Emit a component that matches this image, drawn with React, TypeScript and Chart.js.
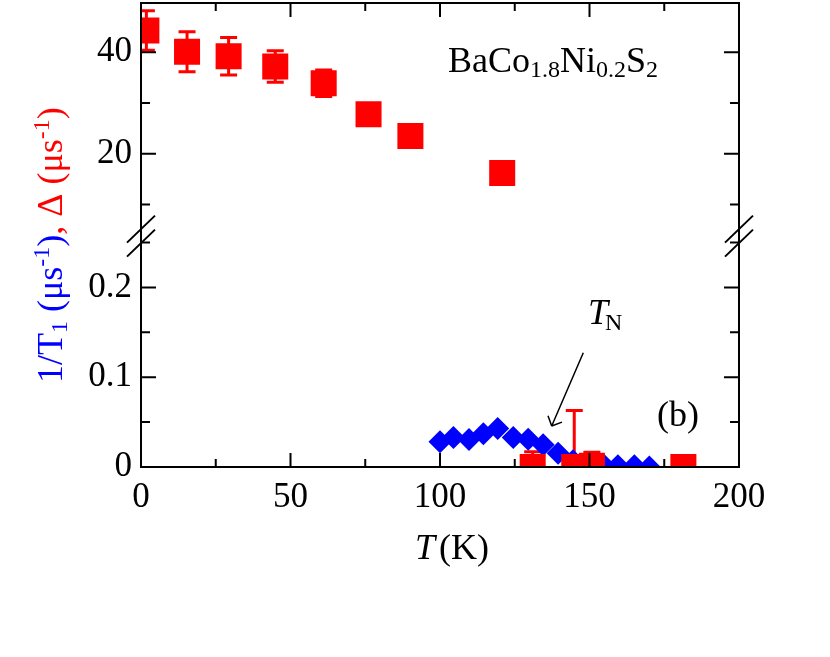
import React, { useEffect, useRef } from 'react';
import { Chart, registerables } from 'chart.js';
Chart.register(...registerables);

const FONT = '"Liberation Serif", "Times New Roman", serif';
const RED = '#ff0000';
const BLUE = '#0000ff';

// Δ (upper panel, μs^-1)
const deltaT = [1.8, 15.4, 29.3, 44.9, 61.1, 76.1, 90.1, 120.8];
const deltaVal = [44.3, 40.1, 39.2, 37.2, 33.9, 27.8, 23.5, 16.2];
const deltaErr = [3.9, 3.95, 3.7, 3.1, 2.6, 0, 0, 0];

// Δ above T_N (lower panel scale)
const deltaHighT = [131, 144.9, 150.8, 181.4];
const deltaHighVal = [0, 0, 0.0015, 0];
const deltaHighErr = [0.017, 0.063, 0.015, 0];

// 1/T1 (lower panel, μs^-1)
const relaxT = [100, 104.5, 109.7, 114.5, 119.3, 124.5, 129.5, 134.5, 139.5, 144.5, 149.5, 154.5, 159.5, 165, 170];
const relaxVal = [0.028, 0.033, 0.0305, 0.037, 0.0428, 0.0329, 0.031, 0.0247, 0.0154, 0.0069, 0.003, 0.0031, 0.0013, 0.0013, 0];

// ticks
const xMajor = [0, 50, 100, 150, 200];
const xMinor = [25, 75, 125, 175];
const topMajor = [20, 40];
const topMinor = [10, 30];
const botMajor = [0, 0.1, 0.2];
const botMinor = [0.05, 0.15, 0.25];

type Seg = { text: string; size: number; color?: string; italic?: boolean; dy?: number; gap?: number };

function drawRich(ctx: CanvasRenderingContext2D, segs: Seg[], x: number, y: number) {
  let cx = x;
  for (const s of segs) {
    ctx.font = `${s.italic ? 'italic ' : ''}${s.size}px ${FONT}`;
    ctx.fillStyle = s.color || '#000';
    ctx.fillText(s.text, cx, y + (s.dy || 0));
    cx += ctx.measureText(s.text).width + (s.gap || 0);
  }
  return cx;
}

const yTitleSegs: Seg[] = [
  { text: '1/T', size: 36, color: BLUE },
  { text: '1', size: 24, color: BLUE, dy: 5 },
  { text: ' (μs', size: 36, color: BLUE },
  { text: '-1', size: 24, color: BLUE, dy: -13 },
  { text: ')', size: 36, color: BLUE },
  { text: ', Δ (μs', size: 36, color: RED },
  { text: '-1', size: 24, color: RED, dy: -13 },
  { text: ')', size: 36, color: RED },
];

const compoundSegs: Seg[] = [
  { text: 'BaCo', size: 36 },
  { text: '1.8', size: 24, dy: 5 },
  { text: 'Ni', size: 36 },
  { text: '0.2', size: 24, dy: 5 },
  { text: 'S', size: 36 },
  { text: '2', size: 24, dy: 5 },
];

const tnSegs: Seg[] = [
  { text: 'T', size: 36, italic: true, gap: -3 },
  { text: 'N', size: 24, dy: 6 },
];

const xTitleSegs: Seg[] = [
  { text: 'T', size: 36, italic: true, gap: 4 },
  { text: '(K)', size: 36 },
];

function errorBars(ctx: CanvasRenderingContext2D, xs: any, ys: any, T: number[], V: number[], E: number[]) {
  for (let i = 0; i < T.length; i++) {
    if (!E[i]) continue;
    const x = xs.getPixelForValue(T[i]);
    const y1 = ys.getPixelForValue(V[i] + E[i]);
    const y2 = ys.getPixelForValue(V[i] - E[i]);
    ctx.beginPath();
    ctx.moveTo(x, y1);
    ctx.lineTo(x, y2);
    ctx.moveTo(x - 8.5, y1);
    ctx.lineTo(x + 8.5, y1);
    ctx.moveTo(x - 8.5, y2);
    ctx.lineTo(x + 8.5, y2);
    ctx.stroke();
  }
}

const decorPlugin = {
  id: 'decor',
  beforeDatasetsDraw(chart: any) {
    const { ctx, chartArea } = chart;
    const xs = chart.scales.x;
    ctx.save();
    ctx.beginPath();
    ctx.rect(chartArea.left, chartArea.top, chartArea.right - chartArea.left, chartArea.bottom - chartArea.top);
    ctx.clip();
    ctx.strokeStyle = RED;
    ctx.lineWidth = 3;
    errorBars(ctx, xs, chart.scales.yTop, deltaT, deltaVal, deltaErr);
    errorBars(ctx, xs, chart.scales.yBot, deltaHighT, deltaHighVal, deltaHighErr);
    ctx.restore();
  },
  afterDraw(chart: any) {
    const { ctx, chartArea } = chart;
    const { left, right, top, bottom } = chartArea;
    const xs = chart.scales.x;
    const yT = chart.scales.yTop;
    const yB = chart.scales.yBot;
    ctx.save();
    ctx.strokeStyle = '#000';
    ctx.lineWidth = 2;
    ctx.strokeRect(left, top, right - left, bottom - top);
    ctx.beginPath();
    const xt = (vals: number[], len: number) => {
      for (const v of vals) {
        const x = xs.getPixelForValue(v);
        ctx.moveTo(x, bottom);
        ctx.lineTo(x, bottom - len);
        ctx.moveTo(x, top);
        ctx.lineTo(x, top + len);
      }
    };
    const yt = (sc: any, vals: number[], len: number) => {
      for (const v of vals) {
        const y = sc.getPixelForValue(v);
        ctx.moveTo(left, y);
        ctx.lineTo(left + len, y);
        ctx.moveTo(right, y);
        ctx.lineTo(right - len, y);
      }
    };
    xt(xMajor, 14);
    xt(xMinor, 8);
    yt(yT, topMajor, 15);
    yt(yT, topMinor, 9);
    yt(yB, botMajor, 15);
    yt(yB, botMinor, 9);
    ctx.stroke();

    // axis break marks
    const b = yB.top;
    ctx.beginPath();
    for (const ax of [left, right]) {
      for (const cy of [b - 13.5, b + 0.5]) {
        ctx.moveTo(ax - 14, cy + 13.5);
        ctx.lineTo(ax + 14, cy - 13.5);
      }
    }
    ctx.stroke();

    // texts
    ctx.textAlign = 'left';
    ctx.textBaseline = 'alphabetic';
    drawRich(ctx, compoundSegs, 448, 72);
    drawRich(ctx, tnSegs, 588, 324);
    drawRich(ctx, [{ text: '(b)', size: 36 }], 657, 426);
    drawRich(ctx, xTitleSegs, 415, 559);

    ctx.save();
    ctx.translate(62, 383);
    ctx.rotate(-Math.PI / 2);
    drawRich(ctx, yTitleSegs, 0, 0);
    ctx.restore();

    // T_N arrow
    const x0 = 583.3, y0 = 352.7, x1 = 551.7, y1 = 426;
    const ang = Math.atan2(y0 - y1, x0 - x1);
    ctx.lineWidth = 1.5;
    ctx.beginPath();
    ctx.moveTo(x0, y0);
    ctx.lineTo(x1, y1);
    for (const d of [-0.75, 0.8]) {
      ctx.moveTo(x1, y1);
      ctx.lineTo(x1 + 11 * Math.cos(ang + d), y1 + 11 * Math.sin(ang + d));
    }
    ctx.stroke();
    ctx.restore();
  },
};

const tickFont = { family: FONT, size: 35 };

const fitY = (s: any) => {
  s.width = 141;
  s.paddingTop = 0;
  s.paddingBottom = 0;
};

export default function App() {
  const ref = useRef<HTMLCanvasElement>(null);
  useEffect(() => {
    const chart = new Chart(ref.current as HTMLCanvasElement, {
      type: 'scatter',
      data: {
        datasets: [
          {
            label: 'Δ',
            data: deltaT.map((t, i) => ({ x: t, y: deltaVal[i] })),
            yAxisID: 'yTop',
            pointStyle: 'rect',
            pointRadius: 18.4,
            pointBorderWidth: 0,
            backgroundColor: RED,
            borderColor: RED,
            showLine: false,
            clip: 0,
          },
          {
            label: 'Δ (T > TN)',
            data: deltaHighT.map((t, i) => ({ x: t, y: deltaHighVal[i] })),
            yAxisID: 'yBot',
            pointStyle: 'rect',
            pointRadius: 18.4,
            pointBorderWidth: 0,
            backgroundColor: RED,
            borderColor: RED,
            showLine: false,
            clip: 0,
          },
          {
            label: '1/T1',
            data: relaxT.map((t, i) => ({ x: t, y: relaxVal[i] })),
            yAxisID: 'yBot',
            pointStyle: 'rectRot',
            pointRadius: 11.5,
            pointBorderWidth: 0,
            backgroundColor: BLUE,
            borderColor: BLUE,
            showLine: false,
            clip: 0,
          },
        ],
      },
      options: {
        responsive: false,
        animation: false,
        events: [],
        layout: { autoPadding: false, padding: { top: 3, right: 91, left: 0, bottom: 0 } },
        plugins: { legend: { display: false }, tooltip: { enabled: false } },
        scales: {
          x: {
            type: 'linear',
            position: 'bottom',
            min: 0,
            max: 200,
            grid: { display: false, drawTicks: false },
            border: { display: false },
            ticks: { font: tickFont, color: '#000', padding: 10, autoSkip: false, maxRotation: 0 },
            afterBuildTicks: (s: any) => { s.ticks = xMajor.map((v) => ({ value: v })); },
            afterFit: (s: any) => { s.height = 190; s.paddingLeft = 0; s.paddingRight = 0; },
          },
          yBot: {
            type: 'linear',
            position: 'left',
            stack: 'y',
            stackWeight: 224.4,
            min: 0,
            max: 0.25,
            grid: { display: false, drawTicks: false },
            border: { display: false },
            ticks: {
              font: tickFont, color: '#000', padding: 9, autoSkip: false,
              callback: (v: any) => (botMajor.includes(v) ? String(v) : ''),
            },
            afterBuildTicks: (s: any) => { s.ticks = [...botMajor, ...botMinor].sort((a, b) => a - b).map((v) => ({ value: v })); },
            afterFit: fitY,
          },
          yTop: {
            type: 'linear',
            position: 'left',
            stack: 'y',
            stackWeight: 239.6,
            min: 2.47,
            max: 49.72,
            grid: { display: false, drawTicks: false },
            border: { display: false },
            ticks: {
              font: tickFont, color: '#000', padding: 9, autoSkip: false,
              callback: (v: any) => (topMajor.includes(v) ? String(v) : ''),
            },
            afterBuildTicks: (s: any) => { s.ticks = [...topMajor, ...topMinor].sort((a, b) => a - b).map((v) => ({ value: v })); },
            afterFit: fitY,
          },
        },
      } as any,
      plugins: [decorPlugin],
    });
    return () => chart.destroy();
  }, []);
  return (
    <div style={{ position: 'absolute', left: 0, top: 0, width: 830, height: 657, background: '#fff' }}>
      <canvas ref={ref} width={830} height={657} style={{ display: 'block', width: 830, height: 657 }} />
    </div>
  );
}
